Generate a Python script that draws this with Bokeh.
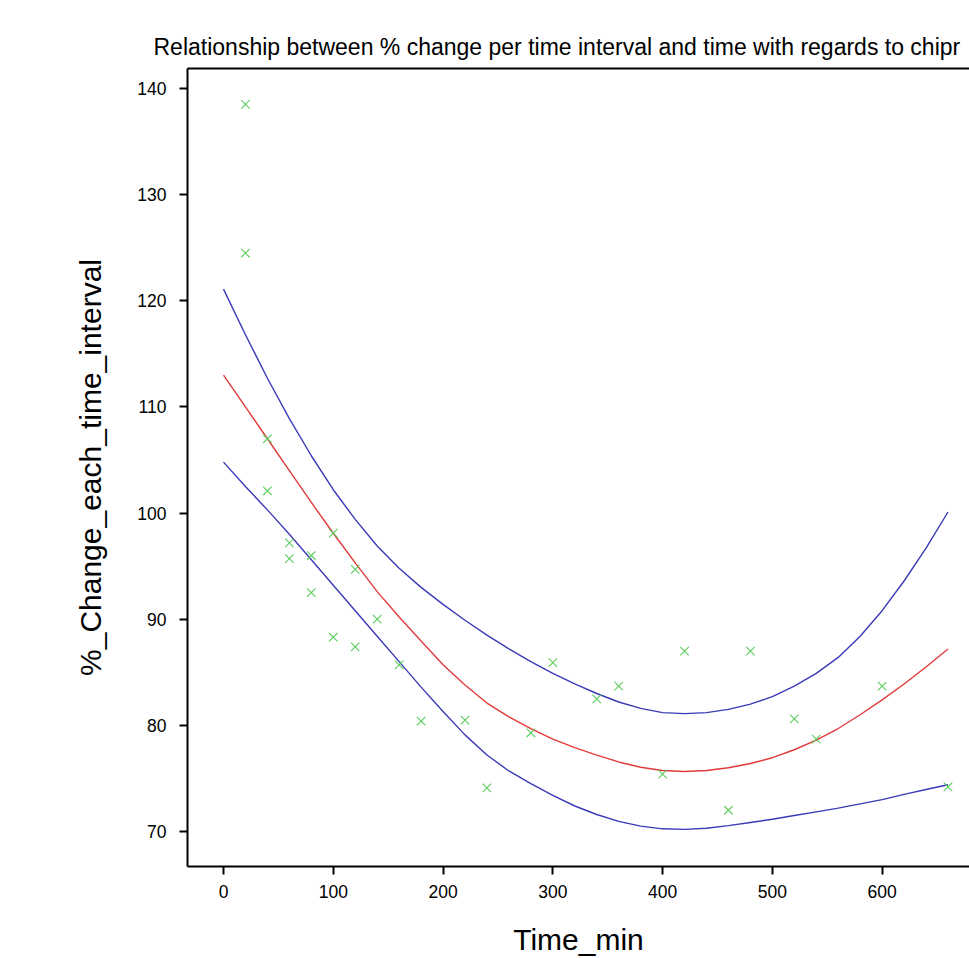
from bokeh.plotting import figure
from bokeh.models import LinearAxis, FixedTicker, Range1d, ColumnDataSource
from bokeh.embed import file_html
from bokeh.resources import INLINE

# ---- data ----
time_min = [20, 20, 40, 40, 60, 60, 80, 80, 100, 100, 120, 120, 140, 160, 180,
            220, 240, 280, 300, 340, 360, 400, 420, 460, 480, 520, 540, 600, 660]
pct_change = [138.5, 124.5, 107.0, 102.1, 97.2, 95.7, 96.0, 92.5, 98.1, 88.3, 94.7, 87.4, 90.0, 85.7, 80.4,
              80.5, 74.1, 79.3, 85.9, 82.5, 83.7, 75.4, 87.0, 72.0, 87.0, 80.6, 78.7, 83.7, 74.2]

fit_time = [0, 20, 40, 60, 80, 100, 120, 140, 160, 180, 200, 220, 240, 260, 280, 300, 320,
            340, 360, 380, 400, 420, 440, 460, 480, 500, 520, 540, 560, 580, 600, 620, 640, 660]
fit_mid = [113.0, 110.0, 107.0, 104.0, 101.0, 98.1, 95.3, 92.6, 90.2, 87.95, 85.7, 83.8, 82.1, 80.8,
           79.7, 78.7, 77.9, 77.2, 76.55, 76.05, 75.75, 75.65, 75.75, 76.0, 76.4, 76.95, 77.7, 78.6,
           79.7, 81.0, 82.4, 83.9, 85.5, 87.2]
fit_upper = [121.1, 116.8, 112.7, 108.9, 105.4, 102.2, 99.4, 96.9, 94.8, 93.0, 91.4, 89.9, 88.5, 87.2,
             86.0, 84.9, 83.9, 83.0, 82.2, 81.6, 81.2, 81.1, 81.2, 81.5, 82.0, 82.7, 83.7, 84.9,
             86.4, 88.4, 90.8, 93.6, 96.7, 100.1]
fit_lower = [104.8, 102.5, 100.3, 98.0, 95.6, 93.2, 90.8, 88.4, 86.0, 83.6, 81.3, 79.1, 77.2, 75.7,
             74.5, 73.4, 72.4, 71.6, 70.95, 70.5, 70.25, 70.2, 70.3, 70.55, 70.85, 71.15, 71.5, 71.85,
             72.2, 72.6, 73.0, 73.5, 73.95, 74.4]

x_ticks = [0, 100, 200, 300, 400, 500, 600]
y_ticks = [70, 80, 90, 100, 110, 120, 130, 140]

title_text = "Relationship between % change per time interval and time with regards to chipr"
x_label = "Time_min"
y_label = "%_Change_each_time_interval"

FONT = "Liberation Sans"

p = figure(width=969, height=958, output_backend="svg", toolbar_location=None,
           x_range=Range1d(-32.8, 679.6), y_range=Range1d(66.70, 141.885),
           min_border_left=187, min_border_right=0, min_border_top=68, min_border_bottom=92,
           title=title_text)
p.outline_line_color = None
p.grid.visible = False
p.background_fill_color = "white"
p.border_fill_color = "white"

p.title.text_font = FONT
p.title.text_font_size = "23px"
p.title.text_font_style = "normal"
p.title.text_color = "black"
p.title.align = "left"
p.title.offset = -34
p.title.standoff = 17

for ax in (p.xaxis[0], p.yaxis[0]):
    ax.axis_line_width = 2
    ax.axis_line_color = "black"
    ax.major_tick_line_width = 2
    ax.major_tick_line_color = "black"
    ax.major_tick_out = 8
    ax.major_tick_in = 0
    ax.minor_tick_line_color = None
    ax.major_label_text_font = FONT
    ax.major_label_text_font_size = "17.5px"
    ax.major_label_text_color = "black"
    ax.axis_label_text_font = FONT
    ax.axis_label_text_font_style = "normal"
    ax.axis_label_text_color = "black"
    ax.axis_label_text_font_size = "30px"

p.xaxis[0].ticker = FixedTicker(ticks=x_ticks)
p.yaxis[0].ticker = FixedTicker(ticks=y_ticks)
p.xaxis[0].axis_label = x_label
p.yaxis[0].axis_label = y_label
p.xaxis[0].major_label_standoff = 10
p.yaxis[0].major_label_standoff = 13
p.xaxis[0].axis_label_standoff = 22
p.yaxis[0].axis_label_standoff = 27

top_axis = LinearAxis(ticker=FixedTicker(ticks=[]), axis_line_width=2, axis_line_color="black",
                      major_tick_line_color=None, minor_tick_line_color=None,
                      major_label_text_font_size="0px")
p.add_layout(top_axis, "above")

pts = ColumnDataSource(dict(x=time_min, y=pct_change))
fit = ColumnDataSource(dict(x=fit_time, mid=fit_mid, up=fit_upper, lo=fit_lower))

p.line("x", "up", source=fit, line_color="#3a3ab8", line_width=1.4, line_join="round")
p.line("x", "lo", source=fit, line_color="#3a3ab8", line_width=1.4, line_join="round")
p.line("x", "mid", source=fit, line_color="#e23a3a", line_width=1.4, line_join="round")
p.scatter("x", "y", source=pts, marker="x", size=12, line_color="#5ccc5c", line_width=1.1)

open("out.html", "w").write(file_html(p, INLINE))
